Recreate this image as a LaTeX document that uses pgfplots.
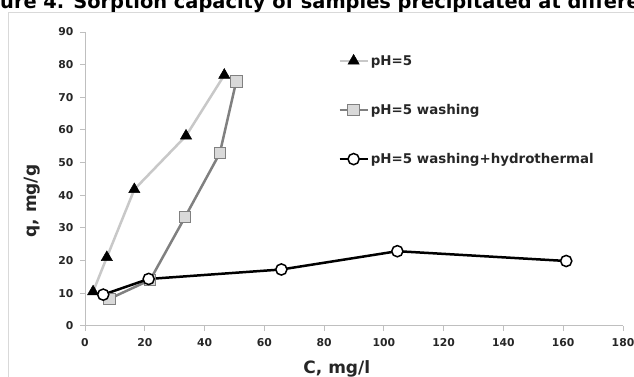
\documentclass[border=0pt]{standalone}
\usepackage{pgfplots}
\pgfplotsset{compat=1.18}
\usepackage{fontspec}
\setmainfont{DejaVu Sans}
\definecolor{framegrey}{HTML}{D9D9D9}
\definecolor{axisgrey}{HTML}{BFBFBF}
\definecolor{lightline}{HTML}{C8C8C8}
\definecolor{darkline}{HTML}{808080}
\definecolor{sqfill}{HTML}{D9D9D9}
\definecolor{tickc}{HTML}{262626}
\begin{document}
\begin{tikzpicture}
% chart frame (runs off the right and bottom edges)
\draw[framegrey, line width=1pt] (8.5pt,-10pt) -- (8.5pt,364.5pt) -- (650pt,364.5pt);
% caption, cut by the top edge
\node[anchor=base west, inner sep=0, font=\bfseries\fontsize{19.4}{19}\selectfont]
  at (0pt,368pt) {\llap{Fig}ure 4. Sorption capacity of samples precipitated at different pH};
\begin{axis}[
    at={(85pt,51pt)}, anchor=south west,
    scale only axis, width=538pt, height=294pt,
    xmin=0, xmax=180, ymin=0, ymax=90,
    xtick={0,20,...,180}, ytick={0,10,...,90},
    axis x line*=bottom, axis y line*=left,
    axis line style={draw=axisgrey, line width=1pt},
    tick style={draw=axisgrey, line width=1pt},
    tick align=outside, major tick length=5pt,
    ticklabel style={font=\bfseries\fontsize{10.8}{12}\selectfont, text=tickc},
    xticklabel style={yshift=-4pt},
    yticklabel style={xshift=-3pt},
    /pgf/number format/assume math mode=true,
    xlabel={C, mg/l}, ylabel={q, mg/g},
    label style={font=\bfseries\fontsize{17}{18}\selectfont, text=tickc},
    xlabel style={at={(axis description cs:0.468,-0.163)}, anchor=base},
    ylabel style={at={(axis description cs:-0.0985,0.425)}, anchor=center},
    legend style={draw=none, fill=none, at={(axis description cs:0.465,0.935)},
      anchor=north west, font=\bfseries\fontsize{13.4}{14}\selectfont,
      text=tickc, row sep=33.5pt},
    legend cell align=left,
    legend image code/.code={\draw[mark repeat=2,mark phase=2]
      plot coordinates {(0pt,0pt)(14pt,0pt)(28pt,0pt)};},
]
\addplot[lightline, line width=2.5pt, mark=triangle*, mark size=6.5pt,
  mark options={fill=black, draw=black, line width=0.5pt}]
  coordinates {(2.7,10.5)(7.3,21)(16.5,41.8)(33.8,58.2)(46.6,76.8)};
\addlegendentry{pH=5}
\addplot[darkline, line width=2.5pt, mark=square*, mark size=5.8pt,
  mark options={fill=sqfill, draw=darkline, line width=1pt}]
  coordinates {(8.1,8.3)(21.8,14.1)(33.5,33.4)(45.1,52.9)(50.6,74.9)};
\addlegendentry{pH=5 washing}
\addplot[black, line width=2.5pt, mark=*, mark size=5.6pt,
  mark options={fill=white, draw=black, line width=1.5pt}]
  coordinates {(6.1,9.6)(21.3,14.4)(65.7,17.3)(104.5,22.9)(161,19.9)};
\addlegendentry{pH=5 washing+hydrothermal}
\end{axis}
\pgfresetboundingbox
\useasboundingbox (0pt,0pt) rectangle (634pt,377pt);
\end{tikzpicture}
\end{document}
